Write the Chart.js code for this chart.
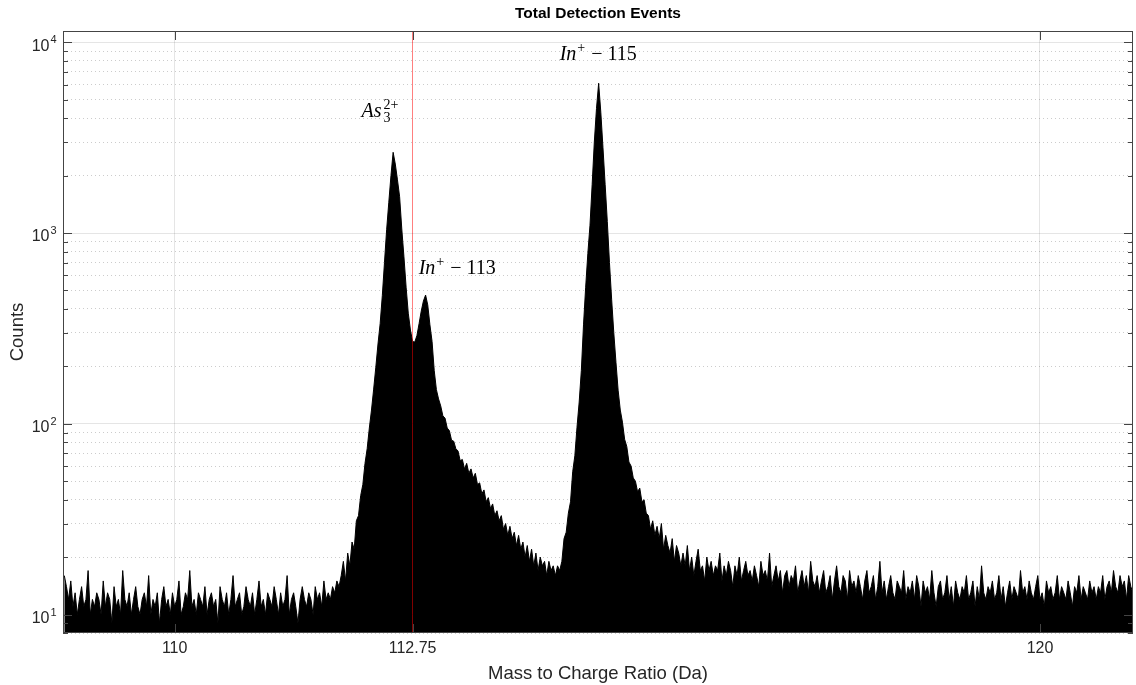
<!DOCTYPE html>
<html>
<head>
<meta charset="utf-8">
<script src="https://cdn.jsdelivr.net/npm/chart.js@4/dist/chart.umd.min.js"></script>
<style>
  html, body { margin: 0; padding: 0; background: #fff; }
  #wrap { width: 1136px; height: 685px; }
</style>
</head>
<body>
<div id="wrap"><canvas id="myChart"></canvas></div>
<script>
// histogram bins: first bin centre and bin width (Da)
const binStart = 108.725;
const binWidth = 0.025;

// counts per bin
const counts = [
  // background 108.7 - 111.9
  16, 14, 12, 15, 11, 13, 10, 12, 14, 11, 12, 17, 10, 12, 11, 13,
  12, 10, 15, 11, 13, 12, 9, 14, 11, 12, 10, 17, 12, 11, 13, 10,
  12, 14, 11, 10, 12, 13, 11, 16, 10, 12, 11, 13, 9, 12, 14, 11,
  12, 10, 13, 11, 12, 15, 10, 11, 13, 12, 17, 11, 12, 10, 13, 12,
  11, 14, 10, 12, 13, 11, 12, 9, 14, 12, 11, 13, 10, 12, 16, 11,
  12, 13, 10, 11, 14, 12, 11, 13, 10, 12, 15, 11, 12, 10, 13, 12,
  11, 14, 12, 10, 13, 11, 12, 16, 10, 12, 13, 11, 9, 12, 14, 12,
  11, 13, 12, 10, 14, 12, 13, 11, 15, 12, 13, 12, 14, 13, 15, 14,
  // As3 2+ rising edge to peak
  16, 19, 15, 21, 18, 24, 22, 31, 33, 42, 48, 62, 74, 95, 118, 152,
  198, 262, 335, 470, 700, 1040, 1450, 2000, 2650,
  // falling edge, valley, In 113 peak
  2300, 1900, 1550, 1050, 750, 520, 380, 310, 270, 268,
  290, 335, 390, 440, 473, 420, 330, 270, 190, 151,
  // In 113 tail
  135, 124, 110, 107, 95, 92, 82, 81, 74, 72, 64, 65, 58, 62, 55, 58,
  52, 55, 48, 49, 43, 45, 39, 41, 36, 38, 33,
  35, 31, 33, 28, 30, 26, 29, 25, 27, 23, 26, 22, 24, 20, 23,
  19, 22, 18, 21, 17, 20, 18, 19, 16, 19, 17, 18, 16, 18, 17,
  // In 115 rising edge to peak
  19, 25, 27, 34, 39, 56, 68, 96, 130, 190, 330, 520, 780, 1100, 1800, 3000,
  4500, 6100,
  // In 115 falling edge
  4300, 2800, 1800, 1150, 700, 450, 300, 210, 150, 118, 102, 83, 76, 63, 60, 52,
  50, 44, 46, 39, 40, 34,
  // tail and background 115.5 - 121.1
  33, 28, 31, 26, 29, 25, 30, 22, 26, 23, 21, 25, 19, 23, 21, 18,
  21, 18, 23, 17, 20, 16, 19, 22, 17, 18, 15, 20, 17, 19, 16, 18,
  17, 21, 15, 18, 16, 19, 17, 14, 18, 16, 20, 15, 17, 19, 16, 17,
  15, 18, 16, 14, 19, 16, 17, 15, 21, 14, 16, 18, 15, 17, 13, 16,
  17, 14, 16, 15, 18, 13, 15, 17, 14, 16, 13, 19, 15, 14, 16, 13,
  15, 17, 13, 14, 16, 12, 15, 18, 14, 13, 16, 15, 12, 17, 14, 15,
  13, 16, 14, 12, 15, 17, 13, 14, 16, 12, 14, 19, 13, 15, 12, 14,
  16, 13, 12, 15, 14, 13, 17, 12, 14, 13, 15, 12, 16, 14, 11, 15,
  13, 14, 12, 17, 13, 11, 14, 15, 12, 13, 16, 12, 14, 11, 15, 13,
  12, 14, 13, 16, 12, 13, 15, 11, 14, 12, 18, 13, 12, 14, 13, 15,
  12, 13, 16, 12, 14, 11, 13, 15, 12, 14, 13, 12, 17, 13, 14, 12,
  15, 13, 12, 14, 16, 12, 13, 11, 15, 13, 14, 12, 13, 16, 12, 14,
  13, 12, 15, 13, 11, 14, 13, 16, 12, 14, 13, 12, 15, 13, 14, 12,
  14, 13, 16, 12, 14, 15, 13, 17, 14, 13, 16, 14, 15, 12, 16, 14, 13,
];
const mz = counts.map((_, i) => +(binStart + i * binWidth).toFixed(3));

const xTicks = [110, 112.75, 120];
const markerMz = 112.75;
const yTicks = [10, 100, 1000, 10000];
const yTickBase = "10";
const yTickExponents = ["1", "2", "3", "4"];

// peak labels: parts, anchor m/z, anchor count (text baseline)
const peakLabelMz = [112.16, 112.82, 114.45];
const peakLabelCounts = [4050, 610, 8100];
const peakLabelParts = [
  [{ t: "A", it: true }, { t: "s", it: true, gap: 1 }, { sub: "3", sup: "2+" }],
  [{ t: "In", it: true }, { sup: "+" }, { t: " \u2212 113" }],
  [{ t: "In", it: true }, { sup: "+" }, { t: " \u2212 115" }],
];

const minorTicks = [];
[1, 10, 100, 1000].forEach((d) => {
  for (let k = 2; k <= 9; k++) if (k * d >= 8 && k * d <= 11460) minorTicks.push(k * d);
});

Chart.defaults.font.family = '"Liberation Sans", Arial, Helvetica, sans-serif';
Chart.defaults.color = "#262626";

const frame = {
  id: "frame",
  afterDraw(chart) {
    const { ctx, chartArea: a, scales } = chart;
    ctx.save();
    ctx.strokeStyle = "#444";
    ctx.lineWidth = 1;
    ctx.beginPath();
    const hy = (v, len) => {
      const p = Math.round(scales.y.getPixelForValue(v)) + 0.5;
      ctx.moveTo(a.left, p); ctx.lineTo(a.left + len, p);
      ctx.moveTo(a.right, p); ctx.lineTo(a.right - len, p);
    };
    yTicks.forEach((v) => hy(v, 9));
    minorTicks.forEach((v) => hy(v, 5));
    xTicks.forEach((v) => {
      const p = Math.round(scales.x.getPixelForValue(v)) + 0.5;
      ctx.moveTo(p, a.top); ctx.lineTo(p, a.top + 9);
      ctx.moveTo(p, a.bottom); ctx.lineTo(p, a.bottom - 9);
    });
    ctx.stroke();
    ctx.strokeRect(a.left + 0.5, a.top + 0.5, a.right - a.left - 1, a.bottom - a.top - 1);

    // exponents of the y tick labels
    ctx.fillStyle = "#262626";
    ctx.font = '11px "Liberation Sans", Arial, sans-serif';
    ctx.textAlign = "left";
    ctx.textBaseline = "middle";
    yTicks.forEach((v, i) => {
      ctx.fillText(yTickExponents[i], a.left - 12.5, scales.y.getPixelForValue(v) - 2);
    });
    ctx.restore();
  },
  afterDatasetsDraw(chart) {
    const { ctx, scales } = chart;
    ctx.save();
    ctx.fillStyle = "#000";
    ctx.textBaseline = "alphabetic";
    const big = 20, small = 14;
    peakLabelParts.forEach((parts, i) => {
      let x = scales.x.getPixelForValue(peakLabelMz[i]);
      const y = scales.y.getPixelForValue(peakLabelCounts[i]);
      parts.forEach((p) => {
        if (p.t !== undefined) {
          ctx.font = (p.it ? "italic " : "") + big + 'px "Liberation Serif", "Times New Roman", serif';
          ctx.fillText(p.t, x, y);
          x += ctx.measureText(p.t).width + (p.gap || 0);
        } else {
          ctx.font = small + 'px "Liberation Serif", "Times New Roman", serif';
          let w = 0;
          if (p.sub) { ctx.fillText(p.sub, x + 1, y + 5); w = Math.max(w, ctx.measureText(p.sub).width); }
          if (p.sup) { ctx.fillText(p.sup, x + 1, y - 8); w = Math.max(w, ctx.measureText(p.sup).width); }
          x += w + 2;
        }
      });
    });
    ctx.restore();
  },
};

const ctx = document.getElementById("myChart").getContext("2d");
const myChart = new Chart(ctx, {
  type: "line",
  data: {
    datasets: [
      {
        label: "Counts",
        data: mz.map((x, i) => ({ x, y: counts[i] })),
        borderColor: "#000",
        backgroundColor: "#000",
        borderWidth: 1,
        pointRadius: 0,
        tension: 0,
        fill: "start",
      },
    ],
  },
  options: {
    responsive: true,
    maintainAspectRatio: false,
    animation: false,
    layout: { padding: { left: 0, right: 3, top: 0, bottom: 0 } },
    plugins: {
      legend: { display: false },
      tooltip: { enabled: false },
      title: {
        display: true,
        fullSize: false,
        text: "Total Detection Events",
        color: "#000",
        font: { size: 15.5, weight: "bold" },
        padding: { top: 4, bottom: 8.4 },
      },
    },
    scales: {
      x: {
        type: "linear",
        min: 108.71,
        max: 121.075,
        afterBuildTicks: (s) => { s.ticks = xTicks.map((v) => ({ value: v })); },
        afterFit: (s) => { s.height = 52; },
        ticks: { font: { size: 16 }, padding: 6, autoSkip: false, maxRotation: 0, callback: (v) => String(v) },
        grid: {
          z: 1,
          drawTicks: false,
          color: (c) => (c.tick && c.tick.value === markerMz ? "rgba(255,0,0,0.5)" : "rgba(0,0,0,0.1)"),
        },
        border: { display: false },
        title: { display: true, text: "Mass to Charge Ratio (Da)", font: { size: 18.5 }, padding: { top: 0, bottom: 0 } },
      },
      y: {
        type: "logarithmic",
        position: "left",
        min: 8,
        max: 11460,
        afterBuildTicks: (s) => { s.ticks = yTicks.map((v) => ({ value: v, major: true })); },
        afterFit: (s) => { s.width = 63; },
        ticks: {
          font: { size: 16 },
          padding: 13.5,
          labelOffset: 4,
          callback: (v) => (yTicks.includes(v) ? yTickBase : ""),
        },
        grid: { z: 1, drawTicks: false, color: "rgba(0,0,0,0.1)" },
        border: { display: false },
        title: { display: true, text: "Counts", font: { size: 18.5 }, padding: { top: 7, bottom: 0 } },
      },
      yMinor: {
        type: "logarithmic",
        position: "left",
        min: 8,
        max: 11460,
        afterBuildTicks: (s) => { s.ticks = minorTicks.map((v) => ({ value: v })); },
        afterFit: (s) => { s.width = 0; },
        ticks: { display: false },
        grid: { drawTicks: false, color: "rgba(0,0,0,0.2)" },
        border: { display: false, dash: [1, 3] },
      },
    },
  },
  plugins: [frame],
});
</script>
</body>
</html>
